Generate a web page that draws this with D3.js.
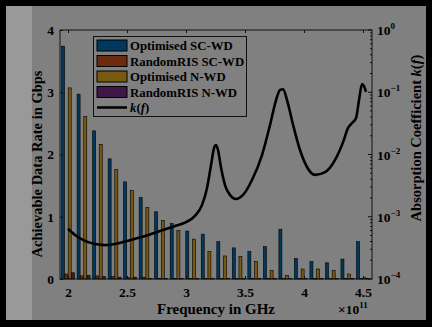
<!DOCTYPE html>
<html>
<head>
<meta charset="utf-8">
<script src="https://cdn.jsdelivr.net/npm/d3@7"></script>
<style>
  body { margin: 0; background: #000; }
  text { font-family: "Liberation Serif", "DejaVu Serif", serif; font-weight: bold; fill: #000; }
</style>
</head>
<body>
<script>
// frequencies (x 1e11 Hz), one bar group each
var freqs = [2.0, 2.132, 2.263, 2.395, 2.526, 2.658, 2.789, 2.921, 3.053, 3.184,
             3.316, 3.447, 3.579, 3.711, 3.842, 3.974, 4.105, 4.237, 4.368, 4.5];

var seriesNames = ["Optimised SC-WD", "RandomRIS SC-WD", "Optimised N-WD", "RandomRIS N-WD"];
var seriesColors = ["#00395e", "#6d2a0d", "#775910", "#3f1847"];

var optSC  = [3.74, 2.97, 2.38, 1.93, 1.56, 1.31, 1.08, 0.89, 0.77, 0.72,
              0.60, 0.50, 0.44, 0.52, 0.80, 0.33, 0.28, 0.26, 0.32, 0.60];
var randSC = [0.08, 0.05, 0.05, 0.04, 0.02, 0.03, 0.01, 0.01, 0.01, 0.01,
              0.01, 0.01, 0.01, 0.005, 0.005, 0.005, 0.005, 0.005, 0.005, 0.005];
var optN   = [3.07, 2.61, 2.16, 1.76, 1.42, 1.15, 0.94, 0.78, 0.64, 0.44,
              0.37, 0.36, 0.28, 0.14, 0.06, 0.16, 0.16, 0.14, 0.08, 0.02];
var randN  = [0.10, 0.06, 0.04, 0.03, 0.03, 0.01, 0.01, 0.01, 0.01, 0.005,
              0.005, 0.005, 0.005, 0.005, 0.005, 0.005, 0.005, 0.005, 0.005, 0.005];

// absorption coefficient curve k(f)
var kFreq = [2.000, 2.059, 2.144, 2.229, 2.314, 2.398, 2.525, 2.653, 2.780, 2.907,
             3.000, 3.076, 3.136, 3.178, 3.212, 3.237, 3.254, 3.271, 3.297, 3.331,
             3.373, 3.424, 3.483, 3.559, 3.644, 3.712, 3.763, 3.797, 3.822, 3.856,
             3.907, 3.966, 4.025, 4.093, 4.178, 4.263, 4.331, 4.373, 4.407, 4.441,
             4.466, 4.492, 4.508, 4.525];
var kVal  = [6.4e-4, 5.1e-4, 4.1e-4, 3.65e-4, 3.5e-4, 3.65e-4, 4.2e-4, 4.9e-4, 5.9e-4, 7.1e-4,
             8.2e-4, 1.03e-3, 1.55e-3, 2.9e-3, 6.8e-3, 1.26e-2, 1.42e-2, 1.18e-2, 6.1e-3, 3.2e-3,
             2.24e-3, 1.93e-3, 2.24e-3, 3.9e-3, 9.8e-3, 2.98e-2, 7.5e-2, 0.109, 0.112, 0.075,
             0.030, 0.0118, 6.3e-3, 4.7e-3, 5.2e-3, 8.2e-3, 0.0158, 0.0267, 0.032, 0.0385,
             0.075, 0.136, 0.126, 0.101];

var xTicks = [2, 2.5, 3, 3.5, 4, 4.5];
var xTickLabels = ["2", "2.5", "3", "3.5", "4", "4.5"];
var yTicks = [0, 1, 2, 3, 4];
var kTicks = [0, -1, -2, -3, -4];

var width = 432, height = 327;

var svg = d3.select("body").append("svg")
    .attr("width", width)
    .attr("height", height);

// frame + backgrounds
svg.append("rect").attr("width", width).attr("height", height).attr("fill", "#000");
svg.append("rect").attr("x", 6).attr("y", 6).attr("width", 420).attr("height", 314).attr("fill", "#808080");
svg.append("rect").attr("x", 6).attr("y", 6).attr("width", 26).attr("height", 314).attr("fill", "#999999");

var x = d3.scaleLinear().domain([1.932, 4.576]).range([60, 372]);
var y = d3.scaleLinear().domain([0, 4]).range([279, 30]);
var yk = d3.scaleLog().domain([1e-4, 1]).range([279, 30]);
var inner = d3.scaleBand().domain(d3.range(4)).range([-6.5, 6.5]).paddingInner(0.1);

var allSeries = [optSC, randSC, optN, randN];

// bars
var g = svg.append("g");
allSeries.forEach(function(vals, s) {
    g.selectAll(".bar" + s)
        .data(vals)
        .enter()
        .append("rect")
        .attr("x", function(d, i) { return x(freqs[i]) + inner(s); })
        .attr("width", inner.bandwidth())
        .attr("y", function(d) { return y(d); })
        .attr("height", function(d) { return y(0) - y(d); })
        .attr("fill", seriesColors[s])
        .attr("stroke", "#000")
        .attr("stroke-width", 0.6);
});

// k(f) line
var line = d3.line()
    .x(function(d, i) { return x(kFreq[i]); })
    .y(function(d) { return yk(d); })
    .curve(d3.curveMonotoneX);

svg.append("path")
    .attr("d", line(kVal))
    .attr("fill", "none")
    .attr("stroke", "#000")
    .attr("stroke-width", 2.6);

// axes (box, inward ticks)
var axisCol = "#111";
svg.append("rect")
    .attr("x", 60).attr("y", 30).attr("width", 312).attr("height", 249)
    .attr("fill", "none").attr("stroke", axisCol).attr("stroke-width", 1);

var bottomAx = svg.append("g").attr("transform", "translate(0,279)")
    .call(d3.axisBottom(x).tickValues(xTicks).tickSizeInner(-3).tickSizeOuter(0).tickFormat(function(d, i) { return xTickLabels[i]; }));
bottomAx.select(".domain").remove();
bottomAx.selectAll("line").attr("stroke", axisCol);
bottomAx.selectAll("text").attr("y", 8).style("font-size", "13.5px");

var topAx = svg.append("g").attr("transform", "translate(0,30)")
    .call(d3.axisTop(x).tickValues(xTicks).tickSizeInner(-3).tickSizeOuter(0).tickFormat(""));
topAx.select(".domain").remove();
topAx.selectAll("line").attr("stroke", axisCol);

var leftAx = svg.append("g").attr("transform", "translate(60,0)")
    .call(d3.axisLeft(y).tickValues(yTicks).tickSizeInner(-3).tickSizeOuter(0).tickFormat(d3.format("d")));
leftAx.select(".domain").remove();
leftAx.selectAll("line").attr("stroke", axisCol);
leftAx.selectAll("text").attr("x", -6).style("font-size", "13.5px");

// right log axis with minor ticks
var minor = [];
for (var e = -4; e < 0; e++) {
    for (var m = 1; m < 10; m++) minor.push(m * Math.pow(10, e));
}
minor.push(1);
svg.append("g").selectAll("line")
    .data(minor)
    .enter()
    .append("line")
    .attr("x1", 372)
    .attr("x2", function(d) { return Math.abs(Math.log10(d) - Math.round(Math.log10(d))) < 1e-9 ? 368 : 370; })
    .attr("y1", function(d) { return yk(d); })
    .attr("y2", function(d) { return yk(d); })
    .attr("stroke", axisCol);

var rl = svg.append("g").selectAll("text")
    .data(kTicks)
    .enter()
    .append("text")
    .attr("x", 377)
    .attr("y", function(d) { return yk(Math.pow(10, d)) + 5; })
    .style("font-size", "13.5px");
rl.append("tspan").text("10");
rl.append("tspan").attr("dy", -6).style("font-size", "9px").text(function(d) { return d === 0 ? "0" : "\u2212" + (-d); });

// x10^11
var ex = svg.append("text").attr("x", 338).attr("y", 314).style("font-size", "13.5px");
ex.append("tspan").text("\u00d710");
ex.append("tspan").attr("dy", -6).style("font-size", "9px").text("11");

// axis titles
svg.append("text")
    .attr("x", 216).attr("y", 314)
    .attr("text-anchor", "middle")
    .style("font-size", "15px")
    .text("Frequency in GHz");

svg.append("text")
    .attr("transform", "translate(42,164) rotate(-90)")
    .attr("text-anchor", "middle")
    .style("font-size", "14.5px")
    .text("Achievable Data Rate in Gbps");

var rt = svg.append("text")
    .attr("transform", "translate(421,138) rotate(-90)")
    .attr("text-anchor", "middle")
    .style("font-size", "14.5px");
rt.append("tspan").text("Absorption Coefficient ");
rt.append("tspan").style("font-style", "italic").text("k");
rt.append("tspan").text("(");
rt.append("tspan").style("font-style", "italic").text("f");
rt.append("tspan").text(")");

// legend
var lg = svg.append("g");
lg.append("rect")
    .attr("x", 93.5).attr("y", 36.5).attr("width", 153).attr("height", 80)
    .attr("fill", "#808080").attr("stroke", axisCol);

var rowY = d3.scalePoint().domain(d3.range(5)).range([45.5, 107.5]);
seriesNames.forEach(function(name, i) {
    lg.append("rect")
        .attr("x", 97).attr("y", rowY(i) - 5.5)
        .attr("width", 30).attr("height", 11)
        .attr("fill", seriesColors[i]).attr("stroke", "#000").attr("stroke-width", 1);
    lg.append("text")
        .attr("x", 130).attr("y", rowY(i) + 4.5)
        .style("font-size", "12.8px")
        .text(name);
});
lg.append("line")
    .attr("x1", 97).attr("x2", 127)
    .attr("y1", rowY(4)).attr("y2", rowY(4))
    .attr("stroke", "#000").attr("stroke-width", 2.6);
var kt = lg.append("text").attr("x", 130).attr("y", rowY(4) + 4.5).style("font-size", "12.8px");
kt.append("tspan").style("font-style", "italic").text("k");
kt.append("tspan").text("(");
kt.append("tspan").style("font-style", "italic").text("f");
kt.append("tspan").text(")");
</script>
</body>
</html>
